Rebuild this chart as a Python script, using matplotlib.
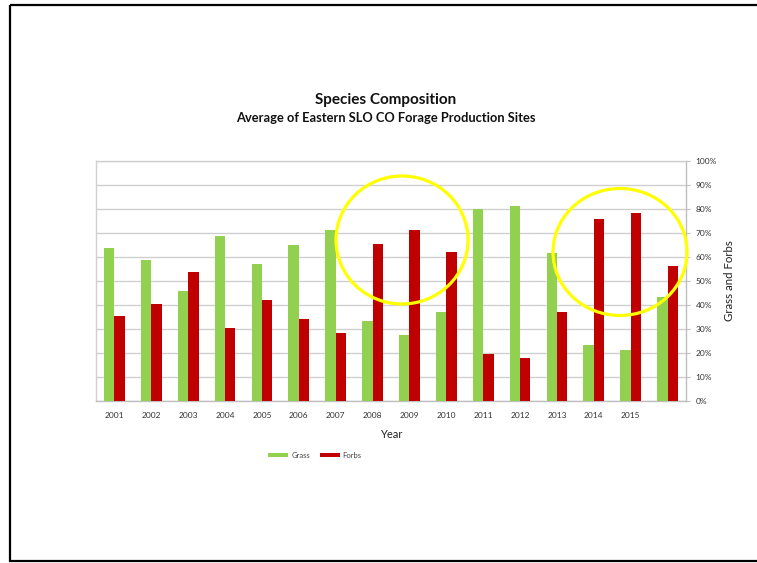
import matplotlib
matplotlib.use("Agg")
import matplotlib.pyplot as plt
from matplotlib.patches import Ellipse, Rectangle
from matplotlib.ticker import PercentFormatter
import numpy as np

plt.rcParams['font.family'] = ['Lato', 'DejaVu Sans']

years = ["2001", "2002", "2003", "2004", "2005", "2006", "2007", "2008",
         "2009", "2010", "2011", "2012", "2013", "2014", "2015", ""]
grass = [63.6, 58.6, 45.7, 68.6, 57.2, 65.0, 71.1, 33.5,
         27.7, 37.1, 80.0, 81.3, 61.8, 23.5, 21.1, 43.3]
forbs = [35.4, 40.4, 53.6, 30.6, 41.9, 34.3, 28.2, 65.6,
         71.4, 61.9, 19.4, 17.9, 37.2, 75.8, 78.3, 56.1]

W, H = 757, 563
fig = plt.figure(figsize=(W / 100, H / 100), dpi=100)
fig.patch.set_facecolor("white")

ax = fig.add_axes([96 / W, 1 - 401 / H, (686 - 96) / W, (401 - 161) / H])
x = np.arange(len(years))
bw = 0.28
ax.bar(x - bw / 2, grass, bw, color="#92D050", label="Grass", zorder=3)
ax.bar(x + bw / 2, forbs, bw, color="#C00000", label="Forbs", zorder=3)
ax.set_xlim(-0.5, len(years) - 0.5)
ax.set_ylim(0, 100)
ax.set_xticks(x)
ax.set_xticklabels(years, fontsize=6, color="#333333")
ax.tick_params(axis="x", length=0, pad=8)
ax.yaxis.tick_right()
ax.yaxis.set_label_position("right")
ax.set_yticks(np.arange(0, 101, 10))
ax.yaxis.set_major_formatter(PercentFormatter(decimals=0))
ax.tick_params(axis="y", labelsize=6, colors="#333333", length=3, width=0.8, pad=4)
ax.tick_params(axis="y", color="#BFBFBF")
ax.grid(axis="y", color="#D0D0D0", linewidth=1.0, zorder=0)
for s in ax.spines.values():
    s.set_color("#D0D0D0")
    s.set_linewidth(1.0)
ax.spines["bottom"].set_color("#BFBFBF")
ax.spines["right"].set_color("#BFBFBF")
ax.set_xlabel("Year", fontsize=8, color="#222222", labelpad=7)
ax.set_ylabel("Grass and Forbs", fontsize=8.3, color="#222222", labelpad=5)

leg = fig.legend(loc="center", bbox_to_anchor=(315 / W, 1 - 455 / H), ncol=2,
                 frameon=False, fontsize=5.5, handlelength=2.6, handleheight=0.4,
                 columnspacing=1.3, handletextpad=0.4)
for t in leg.get_texts():
    t.set_color("#444444")

fig.text(386 / W, 1 - 100 / H, "Species Composition", fontsize=11, fontweight="bold",
         ha="center", va="center", color="#111111")
fig.text(386 / W, 1 - 118 / H, "Average of Eastern SLO CO Forage Production Sites",
         fontsize=9.3, fontweight="bold", ha="center", va="center", color="#111111")

ov = fig.add_axes([0, 0, 1, 1], facecolor="none")
ov.set_xlim(0, W)
ov.set_ylim(H, 0)
ov.axis("off")
ov.add_patch(Rectangle((10, 4.5), W + 20, 556.5, fill=False, edgecolor="black", linewidth=1.6))
ov.add_patch(Ellipse((402, 240), 132, 128, fill=False, edgecolor="#FFFF00", linewidth=2.3))
ov.add_patch(Ellipse((620, 252), 134, 127, fill=False, edgecolor="#FFFF00", linewidth=2.3))

fig.savefig("out.png", dpi=100, facecolor="white")
